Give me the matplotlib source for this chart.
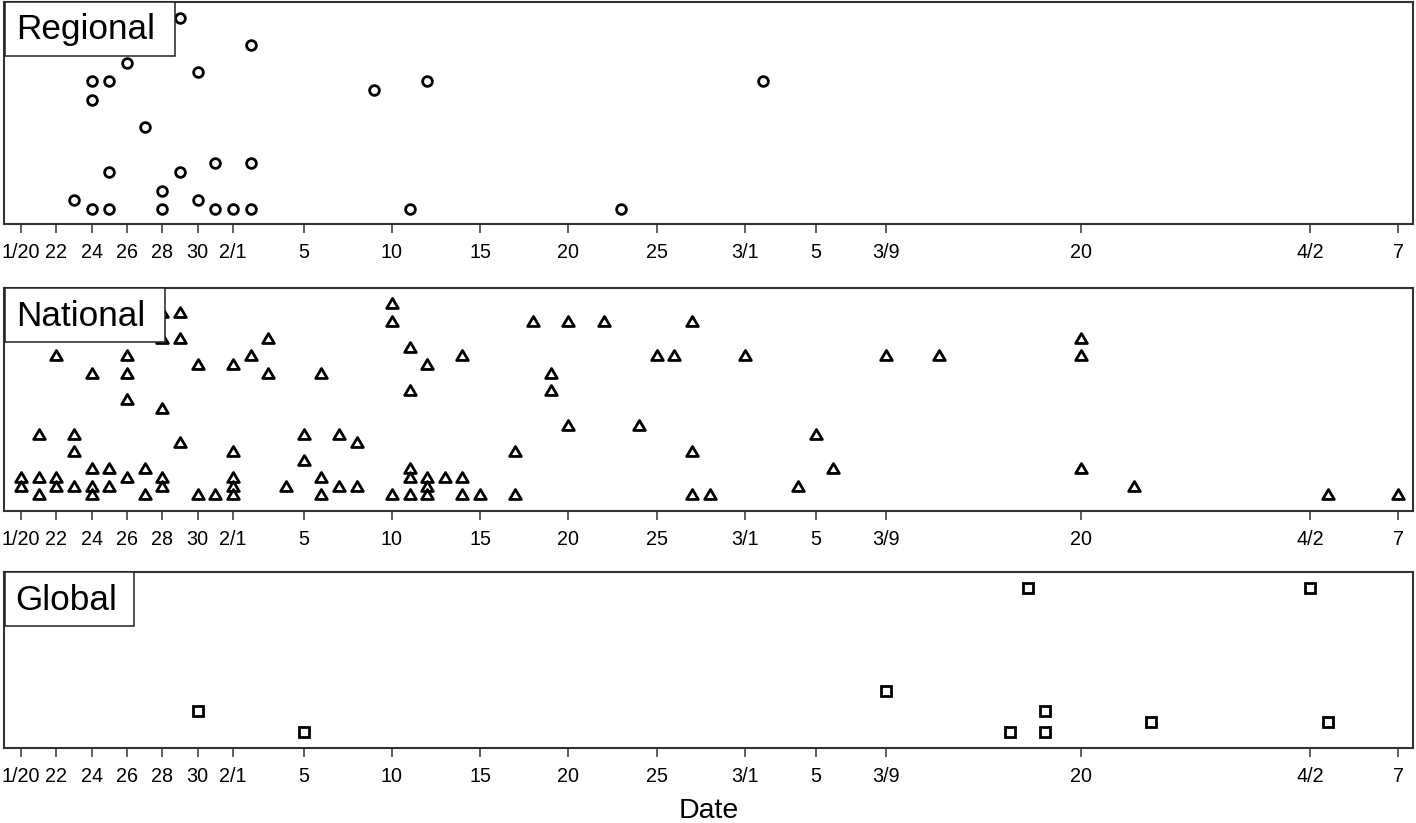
"""
Timeline of reported items at three spatial scales (Regional / National / Global).
Each marker is one report; vertical position is its stacking level for that day.
"""

import numpy as np
import matplotlib
matplotlib.use("Agg")
import matplotlib.pyplot as plt
from matplotlib.patches import Rectangle
from matplotlib.path import Path

plt.rcParams["font.family"] = ["Liberation Sans", "DejaVu Sans"]


# ── Data (dates are 2020, MM-DD) ──────────────────────────────────────────────

regional_dates = [
    "01-23",
    "01-24", "01-24", "01-24",
    "01-25", "01-25", "01-25",
    "01-26", "01-27",
    "01-28", "01-28",
    "01-29", "01-29",
    "01-30", "01-30",
    "01-31", "01-31",
    "02-01",
    "02-02", "02-02", "02-02",
    "02-09", "02-11", "02-12", "02-23", "03-02",
]
regional_level = [
    1,
    0, 12, 14,
    0, 4, 14,
    16, 9,
    0, 2,
    4, 21,
    1, 15,
    0, 5,
    0,
    0, 5, 18,
    13, 0, 14, 0, 14,
]

national_dates = [
    "01-20", "01-20",
    "01-21", "01-21", "01-21",
    "01-22", "01-22", "01-22",
    "01-23", "01-23", "01-23",
    "01-24", "01-24", "01-24", "01-24",
    "01-25", "01-25",
    "01-26", "01-26", "01-26", "01-26",
    "01-27", "01-27",
    "01-28", "01-28", "01-28", "01-28", "01-28",
    "01-29", "01-29", "01-29",
    "01-30", "01-30",
    "01-31",
    "02-01", "02-01", "02-01", "02-01", "02-01",
    "02-02",
    "02-03", "02-03",
    "02-04",
    "02-05", "02-05",
    "02-06", "02-06", "02-06",
    "02-07", "02-07",
    "02-08", "02-08",
    "02-10", "02-10", "02-10",
    "02-11", "02-11", "02-11", "02-11", "02-11",
    "02-12", "02-12", "02-12", "02-12",
    "02-13",
    "02-14", "02-14", "02-14",
    "02-15",
    "02-17", "02-17",
    "02-18",
    "02-19", "02-19",
    "02-20", "02-20",
    "02-22", "02-24", "02-25", "02-26",
    "02-27", "02-27", "02-27",
    "02-28", "03-01", "03-04", "03-05", "03-06", "03-09", "03-12",
    "03-20", "03-20", "03-20",
    "03-23", "04-03", "04-07",
]
national_level = [
    1, 2,
    0, 2, 7,
    1, 2, 16,
    1, 5, 7,
    0, 1, 3, 14,
    1, 3,
    2, 11, 14, 16,
    0, 3,
    1, 2, 10, 18, 21,
    6, 18, 21,
    0, 15,
    0,
    0, 1, 2, 5, 15,
    16,
    14, 18,
    1,
    4, 7,
    0, 2, 14,
    1, 7,
    1, 6,
    0, 20, 22,
    0, 2, 3, 12, 17,
    0, 1, 2, 15,
    2,
    0, 2, 16,
    0,
    0, 5,
    20,
    12, 14,
    8, 20,
    20, 8, 16, 16,
    0, 5, 20,
    0, 16, 1, 7, 3, 16, 16,
    3, 16, 18,
    1, 0, 0,
]

global_dates = ["01-30", "02-05", "03-09", "03-16", "03-17",
                "03-18", "03-18", "03-24", "04-02", "04-03"]
global_level = [2, 0, 4, 0, 14, 0, 2, 1, 14, 1]

tick_dates = ["01-20", "01-22", "01-24", "01-26", "01-28", "01-30", "02-01",
              "02-05", "02-10", "02-15", "02-20", "02-25", "03-01", "03-05",
              "03-09", "03-20", "04-02", "04-07"]
tick_labels = ["1/20", "22", "24", "26", "28", "30", "2/1", "5", "10", "15",
               "20", "25", "3/1", "5", "3/9", "20", "4/2", "7"]

START = np.datetime64("2020-01-20")


def to_days(dates):
    arr = np.array(["2020-" + d for d in dates], dtype="datetime64[D]")
    return (arr - START).astype(int)


# ── Plotting ──────────────────────────────────────────────────────────────────

W_PX, H_PX = 1416, 823
fig = plt.figure(figsize=(W_PX / 100, H_PX / 100), dpi=100)

FRAME = "#333333"
# closed, slightly flattened triangle (like R's pch = 2)
tri = Path([(0, 0.85), (-1, -0.85), (1, -0.85), (0, 0.85)],
           [Path.MOVETO, Path.LINETO, Path.LINETO, Path.CLOSEPOLY])

# name, dates, levels, marker, ms, ylim, (top_px, bottom_px), label box width px
panels = [
    ("Regional", regional_dates, regional_level, "o", 7.0, (-1.68, 22.73), (2, 224), 170),
    ("National", national_dates, national_level, tri, 8.4, (-1.92, 23.73), (288.3, 511), 160),
    ("Global", global_dates, global_level, "s", 6.9, (-1.58, 15.5), (572.3, 748.3), 129),
]

left_px, right_px = 4.3, 1413.3
ax_w_px = right_px - left_px

for name, dates, levels, marker, ms, ylim, (top_px, bot_px), box_w in panels:
    ax_h_px = bot_px - top_px
    ax = fig.add_axes([left_px / W_PX, 1 - bot_px / H_PX,
                       ax_w_px / W_PX, ax_h_px / H_PX])

    ax.plot(to_days(dates), levels, linestyle="none", marker=marker,
            markersize=ms, markerfacecolor="none", markeredgecolor="black",
            markeredgewidth=2.0, zorder=2)

    ax.set_xlim(-0.946, 78.84)
    ax.set_ylim(*ylim)
    ax.set_yticks([])
    ax.set_xticks(to_days(tick_dates))
    ax.set_xticklabels(tick_labels, fontsize=14.2)
    ax.tick_params(axis="x", length=6.8, width=1.1, pad=6.6, color=FRAME)
    for sp in ax.spines.values():
        sp.set_linewidth(1.5)
        sp.set_color(FRAME)

    # legend-style label box in the top-left corner
    bh = 53.5 / ax_h_px
    ax.add_patch(Rectangle((0.0005, 1 - bh), box_w / ax_w_px, bh,
                           transform=ax.transAxes, facecolor="white",
                           edgecolor="#222222", linewidth=1.1, zorder=3,
                           clip_on=False))
    ax.text(11.4 / ax_w_px, 1 - 37.5 / ax_h_px, name, transform=ax.transAxes,
            fontsize=25.3, ha="left", va="baseline", zorder=4)

fig.text(709 / W_PX, 1 - 817.7 / H_PX, "Date", ha="center", va="baseline",
         fontsize=20.5)

fig.savefig("out.png", dpi=100)
